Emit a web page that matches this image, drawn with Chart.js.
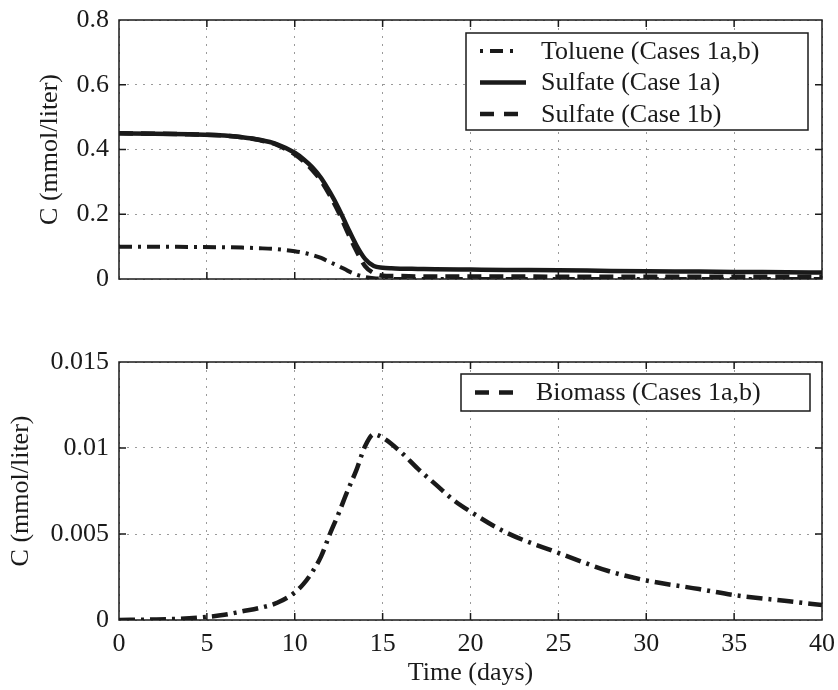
<!DOCTYPE html>
<html>
<head>
<meta charset="utf-8">
<script src="https://cdn.jsdelivr.net/npm/chart.js@4.4.1/dist/chart.umd.min.js"></script>
<style>
  html, body { margin: 0; padding: 0; background: #fff; }
  body { width: 838px; height: 690px; position: relative; overflow: hidden; }
  canvas { position: absolute; left: 0; }
  #top { top: 0; }
  #bot { top: 330px; }
</style>
</head>
<body>
<canvas id="top" width="838" height="300"></canvas>
<canvas id="bot" width="838" height="360"></canvas>
<script>
// ---------------- data ----------------
const topDays   = [0, 2, 4, 6, 7, 8, 9, 10, 10.5, 11, 11.5, 12, 12.5, 13, 13.5, 14, 14.5, 15, 15.5, 16, 17, 18, 20, 22, 25, 28, 30, 33, 35, 38, 40];
const toluene   = [0.100, 0.100, 0.099, 0.098, 0.097, 0.095, 0.092, 0.086, 0.081, 0.074, 0.065, 0.052, 0.040, 0.026, 0.014, 0.006, 0.002, 0.001, 0, 0, 0, 0, 0, 0, 0, 0, 0, 0, 0, 0, 0];
const sulfate1a = [0.450, 0.449, 0.447, 0.443, 0.438, 0.430, 0.416, 0.390, 0.370, 0.345, 0.312, 0.268, 0.218, 0.160, 0.105, 0.062, 0.040, 0.035, 0.033, 0.032, 0.031, 0.030, 0.029, 0.028, 0.027, 0.025, 0.024, 0.023, 0.022, 0.021, 0.020];
const sulfate1b = [0.450, 0.449, 0.447, 0.443, 0.438, 0.429, 0.414, 0.385, 0.364, 0.337, 0.303, 0.258, 0.206, 0.145, 0.088, 0.040, 0.018, 0.010, 0.009, 0.009, 0.008, 0.008, 0.008, 0.008, 0.007, 0.007, 0.007, 0.007, 0.007, 0.007, 0.007];

const bioDays   = [0, 2, 4, 5, 6, 7, 8, 9, 10, 10.5, 11, 11.5, 12, 12.5, 13, 13.5, 14, 14.5, 15, 16, 17, 18, 19, 20, 22, 25, 28, 30, 33, 35, 38, 40];
const biomass   = [0, 0.00003, 0.0001, 0.00018, 0.0003, 0.0005, 0.0007, 0.001, 0.0016, 0.0021, 0.0028, 0.0037, 0.005, 0.0062, 0.0075, 0.0087, 0.0101, 0.0108, 0.0106, 0.0098, 0.0088, 0.0079, 0.0070, 0.0063, 0.0051, 0.0039, 0.0028, 0.0023, 0.0018, 0.00145, 0.0011, 0.00087];

const xTicks    = [0, 5, 10, 15, 20, 25, 30, 35, 40];
const yTopTicks = [0, 0.2, 0.4, 0.6, 0.8];
const yBotTicks = [0, 0.005, 0.01, 0.015];

const labels = {
  toluene: 'Toluene (Cases 1a,b)',
  s1a: 'Sulfate (Case 1a)',
  s1b: 'Sulfate (Case 1b)',
  bio: 'Biomass (Cases 1a,b)'
};
const yTitle = 'C (mmol/liter)';
const xTitle = 'Time (days)';

// ---------------- styling helpers ----------------
const FONT = "'Liberation Serif', 'Times New Roman', serif";
const FS = 26;
const INK = '#1a1a1a';
Chart.defaults.font.family = FONT;
Chart.defaults.color = INK;

const pts = (xs, ys) => xs.map((x, i) => ({ x: x, y: ys[i] }));

// frame + inward ticks + custom legend box
const framePlugin = {
  id: 'frame',
  afterDraw(chart, args, opts) {
    const { ctx, chartArea: a, scales } = chart;
    ctx.save();
    ctx.strokeStyle = INK;
    ctx.lineWidth = 1.5;
    ctx.setLineDash([]);
    const tl = 7;
    ctx.beginPath();
    scales.x.ticks.forEach(t => {
      const px = scales.x.getPixelForValue(t.value);
      if (px <= a.left + 1 || px >= a.right - 1) return;
      ctx.moveTo(px, a.bottom); ctx.lineTo(px, a.bottom - tl);
      ctx.moveTo(px, a.top); ctx.lineTo(px, a.top + tl);
    });
    scales.y.ticks.forEach(t => {
      const py = scales.y.getPixelForValue(t.value);
      if (py <= a.top + 1 || py >= a.bottom - 1) return;
      ctx.moveTo(a.left, py); ctx.lineTo(a.left + tl, py);
      ctx.moveTo(a.right, py); ctx.lineTo(a.right - tl, py);
    });
    ctx.stroke();
    ctx.strokeRect(a.left, a.top, a.right - a.left, a.bottom - a.top);

    // legend
    if (opts && opts.legend) {
      const L = opts.legend;
      ctx.fillStyle = '#fff';
      ctx.fillRect(L.x, L.y, L.w, L.h);
      ctx.lineWidth = 1.5;
      ctx.strokeRect(L.x, L.y, L.w, L.h);
      ctx.font = FS + 'px ' + FONT;
      ctx.textBaseline = 'middle';
      ctx.textAlign = 'left';
      chart.data.datasets.forEach((ds, i) => {
        const cy = L.y + L.rowStart + i * L.rowH;
        ctx.beginPath();
        ctx.strokeStyle = INK;
        ctx.lineWidth = ds.borderWidth;
        ctx.setLineDash(L.dashes[i]);
        ctx.moveTo(L.x + 14, cy);
        ctx.lineTo(L.x + 60, cy);
        ctx.stroke();
        ctx.setLineDash([]);
        ctx.fillStyle = INK;
        ctx.fillText(ds.label, L.x + 75, cy + 1);
      });
    }
    ctx.restore();
  }
};

function fixedTicks(vals) {
  return function (scale) { scale.ticks = vals.map(v => ({ value: v })); };
}
const fmt = v => String(Number(v.toFixed(4)));

function gridOpts() {
  return { color: '#9a9a9a', lineWidth: 1, drawTicks: false };
}
function borderOpts() {
  return { display: false, dash: [2, 6] };
}
function fitX(h) {
  return s => { s.height = h; s.paddingLeft = 0; s.paddingRight = 0; };
}
function fitY(s) { s.width = 119; s.paddingTop = 0; s.paddingBottom = 0; }

// ---------------- top chart ----------------
new Chart(document.getElementById('top'), {
  type: 'line',
  data: {
    datasets: [
      { label: labels.toluene, data: pts(topDays, toluene), borderColor: INK, borderWidth: 4, borderDash: [13, 6, 3, 6], pointRadius: 0, cubicInterpolationMode: 'monotone', fill: false },
      { label: labels.s1a, data: pts(topDays, sulfate1a), borderColor: INK, borderWidth: 4.5, borderDash: [], pointRadius: 0, cubicInterpolationMode: 'monotone', fill: false },
      { label: labels.s1b, data: pts(topDays, sulfate1b), borderColor: INK, borderWidth: 4.5, borderDash: [14, 8], pointRadius: 0, cubicInterpolationMode: 'monotone', fill: false }
    ]
  },
  options: {
    responsive: false,
    animation: false,
    layout: { padding: { top: 20, right: 16, left: 0, bottom: 0 } },
    plugins: {
      legend: { display: false },
      tooltip: { enabled: false },
      frame: { legend: { x: 466, y: 33, w: 342, h: 97, rowStart: 18, rowH: 31.5, dashes: [[3, 7, 13, 7, 3, 30], [], [14, 10]] } }
    },
    scales: {
      x: {
        type: 'linear', min: 0, max: 40,
        afterBuildTicks: fixedTicks(xTicks),
        afterFit: fitX(21),
        ticks: { display: false },
        grid: gridOpts(), border: borderOpts()
      },
      y: {
        min: 0, max: 0.8,
        afterBuildTicks: fixedTicks(yTopTicks),
        afterFit: fitY,
        ticks: { font: { size: FS }, padding: 10, color: INK, callback: v => fmt(v) },
        title: { display: true, text: yTitle, font: { size: FS }, color: INK, padding: { top: 35, bottom: 0 } },
        grid: gridOpts(), border: borderOpts()
      }
    }
  },
  plugins: [framePlugin]
});

// ---------------- bottom chart ----------------
new Chart(document.getElementById('bot'), {
  type: 'line',
  data: {
    datasets: [
      { label: labels.bio, data: pts(bioDays, biomass), borderColor: INK, borderWidth: 4.5, borderDash: [16, 6, 3, 6], pointRadius: 0, cubicInterpolationMode: 'monotone', fill: false }
    ]
  },
  options: {
    responsive: false,
    animation: false,
    layout: { padding: { top: 32, right: 16, left: 0, bottom: 0 } },
    plugins: {
      legend: { display: false },
      tooltip: { enabled: false },
      frame: { legend: { x: 461, y: 44, w: 349, h: 37, rowStart: 18.5, rowH: 30, dashes: [[14, 10]] } }
    },
    scales: {
      x: {
        type: 'linear', min: 0, max: 40,
        afterBuildTicks: fixedTicks(xTicks),
        afterFit: fitX(70),
        ticks: { font: { size: FS }, padding: 9, color: INK, maxRotation: 0, callback: v => fmt(v) },
        title: { display: true, text: xTitle, font: { size: FS }, color: INK, padding: { top: 0, bottom: 1 } },
        grid: gridOpts(), border: borderOpts()
      },
      y: {
        min: 0, max: 0.015,
        afterBuildTicks: fixedTicks(yBotTicks),
        afterFit: fitY,
        ticks: { font: { size: FS }, padding: 10, color: INK, callback: v => fmt(v) },
        title: { display: true, text: yTitle, font: { size: FS }, color: INK, padding: { top: 6, bottom: 0 } },
        grid: gridOpts(), border: borderOpts()
      }
    }
  },
  plugins: [framePlugin]
});
</script>
</body>
</html>
